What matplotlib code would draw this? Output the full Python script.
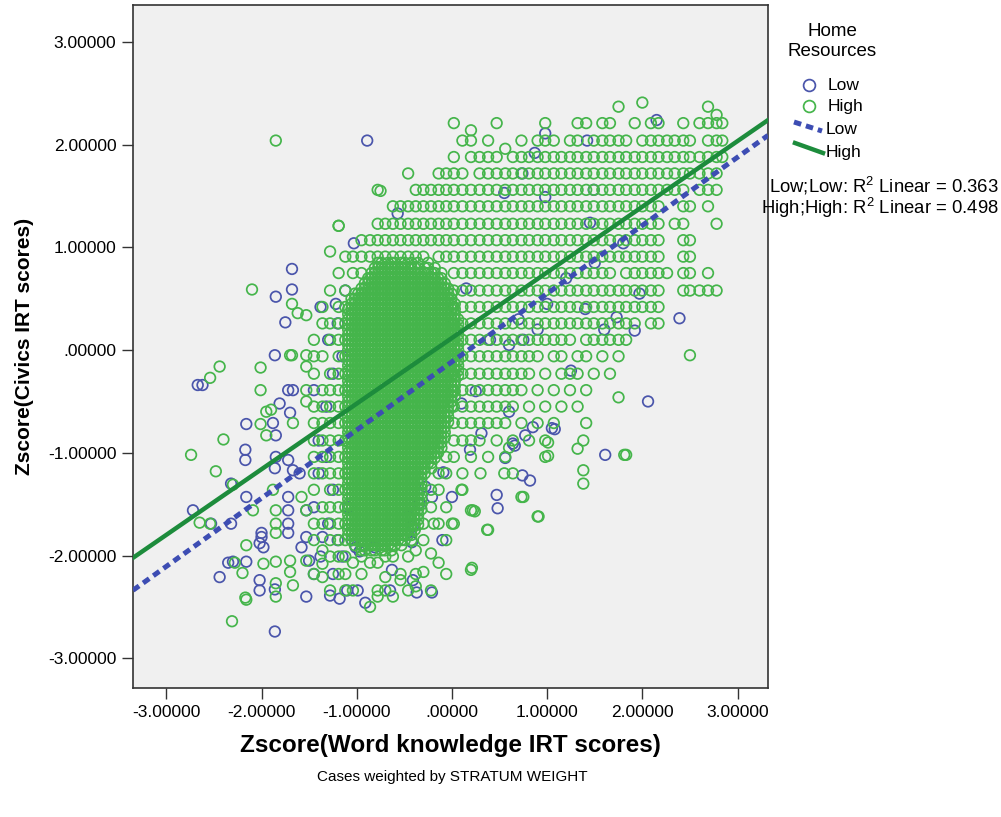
import matplotlib.pyplot as plt
from matplotlib.lines import Line2D
from matplotlib.ticker import FuncFormatter
import numpy as np

plt.rcParams['font.family'] = ['Liberation Sans', 'DejaVu Sans']
plt.rcParams['mathtext.fontset'] = 'custom'
plt.rcParams['mathtext.rm'] = 'Liberation Sans'

# fit lines: (intercept, slope)
fit_low = (-0.114, 0.664)
fit_high = (0.118, 0.639)
r2_low = 0.363
r2_high = 0.498

ticks = [-3, -2, -1, 0, 1, 2, 3]

# the solid middle of the High cloud: ring positions that overlap so closely
# that the area reads as a filled blob. Each column keeps the rows between its
# (bottom, top).
core_rows = [-1.95, -1.90, -1.85, -1.80, -1.75, -1.70, -1.65, -1.60, -1.55, -1.50,
             -1.45, -1.40, -1.35, -1.30, -1.25, -1.20, -1.15, -1.10, -1.05, -1.00,
             -0.95, -0.90, -0.85, -0.80, -0.75, -0.70, -0.65, -0.60, -0.55, -0.50,
             -0.45, -0.40, -0.35, -0.30, -0.25, -0.20, -0.15, -0.10, -0.05, 0.00,
             0.05, 0.10, 0.15, 0.20, 0.25, 0.30, 0.35, 0.40, 0.45, 0.50,
             0.55, 0.60, 0.65, 0.70, 0.75, 0.80, 0.85]
core_cols = {
    -1.09: (-1.80, 0.40), -1.055: (-1.88, 0.50), -1.02: (-1.90, 0.55), -0.985: (-1.88, 0.55),
    -0.95: (-1.95, 0.60), -0.915: (-1.95, 0.65), -0.88: (-1.90, 0.70), -0.845: (-1.95, 0.75),
    -0.81: (-1.95, 0.80), -0.775: (-1.90, 0.85), -0.74: (-1.95, 0.85), -0.705: (-1.95, 0.80),
    -0.67: (-1.90, 0.85), -0.635: (-1.95, 0.85), -0.60: (-1.90, 0.85), -0.565: (-1.85, 0.80),
    -0.53: (-1.90, 0.85), -0.495: (-1.85, 0.85), -0.46: (-1.80, 0.80), -0.425: (-1.85, 0.85),
    -0.39: (-1.75, 0.80), -0.355: (-1.70, 0.85), -0.32: (-1.55, 0.75), -0.285: (-1.20, 0.80),
    -0.25: (-1.10, 0.85), -0.215: (-1.15, 0.75), -0.18: (-1.05, 0.80), -0.145: (-1.00, 0.70),
    -0.11: (-0.95, 0.75), -0.075: (-0.85, 0.65), -0.04: (-0.70, 0.60), -0.005: (-0.55, 0.55),
    0.03: (-0.45, 0.45), 0.065: (-0.25, 0.30),
}

# High group, column by column (x : civics rows)
green_cols = {
    -1.45: [0.10, -0.06, -0.23, -0.55, -0.71, -0.88, -1.04, -1.20, -1.36, -1.69, -1.85, -2.18],
    -1.36: [0.42, 0.26, -0.06, -0.39, -0.55, -0.71, -0.88, -1.04, -1.20, -1.53, -1.69, -1.95, -2.08, -2.21],
    -1.28: [0.96, 0.58, 0.26, 0.10, -0.23, -0.39, -0.55, -0.71, -0.88, -1.04, -1.20, -1.36, -1.53, -1.69, -1.85, -2.01, -2.34],
    -1.19: [1.21, 0.75, 0.42, 0.26, 0.10, -0.06, -0.23, -0.39, -0.55, -0.71, -0.88, -1.04, -1.20, -1.36, -1.53, -1.69, -1.85, -2.01, -2.18],
    -1.12: [0.91, 0.58, 0.42, 0.26, 0.10, -0.06, -0.23, -0.39, -0.55, -0.71, -0.88, -1.04, -1.20, -1.36, -1.53, -1.69, -1.85, -2.01, -2.18, -2.34],
    -1.04: [0.91, 0.75, -2.07, -2.34],
    -0.95: [0.91, 1.07, 0.75, -2.01, -2.18],
    -0.86: [0.91, 1.07, -2.07, -2.50],
    -0.78: [0.91, 1.07, 1.23, 1.56, -2.07, -2.34, -2.40],
    -0.70: [0.91, 1.07, 1.23, -2.01, -2.21, -2.34],
    -0.62: [0.91, 1.07, 1.23, 1.40, -2.01, -2.40],
    -0.54: [0.91, 1.07, 1.23, 1.40, -2.18, -2.24],
    -0.46: [0.91, 1.07, 1.23, 1.40, 1.72, -2.01, -2.34],
    -0.38: [0.91, 1.07, 1.23, 1.40, 1.56, -1.95, -2.18, -2.30],
    -0.30: [0.91, 1.07, 1.23, 1.40, 1.56, -1.69, -1.85, -2.16],
    -0.22: [1.07, 1.23, 1.40, 1.56, -1.36, -1.53, -1.98, -2.34],
    -0.14: [0.91, 1.07, 1.23, 1.40, 1.56, 1.72, -1.20, -1.36, -1.69, -2.07],
    -0.06: [0.91, 1.07, 1.23, 1.40, 1.56, 1.72, -1.04, -1.20, -1.53, -1.85, -2.18],
    0.02: [2.21, 1.88, 1.72, 1.56, 1.40, 1.23, 1.07, 0.91, 0.75, 0.58, 0.42, 0.26, 0.10, -0.06, -0.23, -0.39, -0.55, -0.71, -0.88, -1.04, -1.69],
    0.11: [2.04, 1.72, 1.56, 1.40, 1.23, 1.07, 0.91, 0.75, 0.58, 0.42, 0.26, 0.10, -0.06, -0.23, -0.39, -0.55, -0.71, -0.88, -1.20, -1.36],
    0.20: [2.14, 2.04, 1.88, 1.56, 1.40, 1.23, 1.07, 0.91, 0.75, 0.58, 0.42, 0.26, 0.10, -0.06, -0.23, -0.39, -0.55, -0.71, -0.88, -1.04, -1.56, -2.14],
    0.29: [1.88, 1.72, 1.56, 1.40, 1.23, 1.07, 0.91, 0.75, 0.58, 0.42, 0.26, 0.10, -0.06, -0.23, -0.39, -0.55, -0.71, -0.88],
    0.38: [2.04, 1.88, 1.72, 1.56, 1.40, 1.23, 1.07, 0.91, 0.75, 0.58, 0.42, 0.26, 0.10, -0.06, -0.23, -0.39, -0.55, -0.71, -1.04, -1.75],
    0.47: [2.21, 1.88, 1.72, 1.56, 1.40, 1.23, 1.07, 0.91, 0.75, 0.58, 0.42, 0.26, 0.10, -0.06, -0.23, -0.39, -0.55, -0.71, -0.88],
    0.56: [1.96, 1.72, 1.56, 1.40, 1.23, 1.07, 0.91, 0.75, 0.58, 0.42, 0.26, 0.10, -0.06, -0.23, -0.39, -0.55, -0.71, -1.04],
    0.64: [1.88, 1.72, 1.56, 1.40, 1.23, 1.07, 0.91, 0.75, 0.58, 0.42, 0.26, 0.10, -0.06, -0.23, -0.39, -0.55, -0.88, -1.20],
    0.73: [2.04, 1.88, 1.72, 1.56, 1.40, 1.23, 1.07, 0.91, 0.75, 0.58, 0.42, 0.26, 0.10, -0.06, -0.23, -0.39, -0.71, -1.43],
    0.81: [1.88, 1.72, 1.56, 1.40, 1.23, 1.07, 0.91, 0.75, 0.58, 0.42, 0.26, 0.10, -0.06, -0.23, -0.55, -0.88],
    0.90: [2.04, 1.88, 1.72, 1.56, 1.40, 1.23, 1.07, 0.91, 0.75, 0.58, 0.42, 0.26, 0.10, -0.06, -0.39, -0.71, -1.62],
    0.98: [2.21, 2.04, 1.88, 1.72, 1.56, 1.40, 1.23, 1.07, 0.91, 0.75, 0.58, 0.42, 0.26, 0.10, -0.23, -0.55, -0.88, -1.04],
    1.07: [2.04, 1.88, 1.72, 1.56, 1.40, 1.23, 1.07, 0.91, 0.75, 0.58, 0.42, 0.26, 0.10, -0.06, -0.39, -0.71],
    1.15: [1.88, 1.72, 1.56, 1.40, 1.23, 1.07, 0.91, 0.75, 0.58, 0.42, 0.26, 0.10, -0.06, -0.23, -0.55],
    1.24: [2.04, 1.88, 1.72, 1.56, 1.40, 1.23, 1.07, 0.91, 0.75, 0.58, 0.42, 0.26, 0.10, -0.23, -0.39],
    1.32: [2.21, 2.04, 1.88, 1.72, 1.56, 1.40, 1.23, 1.07, 0.91, 0.75, 0.58, 0.42, 0.26, -0.06, -0.23, -0.55, -0.96],
    1.38: [-0.88, -1.17, -1.30],
    1.41: [2.21, 1.88, 1.72, 1.56, 1.40, 1.23, 1.07, 0.91, 0.75, 0.58, 0.42, 0.26, 0.10, -0.06, -0.39, -0.71],
    1.49: [2.04, 1.88, 1.72, 1.56, 1.40, 1.23, 1.07, 0.91, 0.75, 0.58, 0.42, 0.26, 0.10, -0.23],
    1.58: [2.21, 2.04, 1.88, 1.72, 1.56, 1.40, 1.23, 1.07, 0.91, 0.75, 0.58, 0.42, 0.26, 0.10, -0.06],
    1.66: [2.21, 2.04, 1.88, 1.72, 1.56, 1.40, 1.23, 1.07, 0.91, 0.75, 0.58, 0.42, 0.26, 0.10, -0.23],
    1.75: [2.37, 2.04, 1.88, 1.72, 1.56, 1.40, 1.23, 1.07, 0.91, 0.58, 0.42, 0.26, 0.10, -0.06, -0.46],
    1.83: [2.04, 1.88, 1.72, 1.56, 1.40, 1.23, 1.07, 0.91, 0.75, 0.58, 0.42, 0.26, 0.10, -1.02],
    1.92: [2.21, 1.88, 1.72, 1.56, 1.40, 1.23, 1.07, 0.91, 0.75, 0.58, 0.42, 0.26],
    2.00: [2.41, 2.04, 1.88, 1.72, 1.56, 1.40, 1.23, 1.07, 0.91, 0.75, 0.58, 0.42],
    2.09: [2.21, 2.04, 1.88, 1.72, 1.56, 1.40, 1.23, 1.07, 0.91, 0.75, 0.58, 0.42, 0.26],
    2.17: [2.21, 2.04, 1.88, 1.72, 1.56, 1.40, 1.23, 1.07, 0.91, 0.75, 0.58, 0.42, 0.26],
    2.26: [2.04, 1.88, 1.72, 1.56, 0.75],
    2.34: [2.04, 1.88, 1.72, 1.56, 1.23],
    2.43: [2.21, 2.04, 1.88, 1.72, 1.56, 1.40, 1.23, 1.07, 0.91, 0.75, 0.58],
    2.50: [2.04, 1.88, 1.72, 1.40, 1.07, 0.91, 0.75, 0.58, -0.05],
    2.60: [2.21, 1.88, 1.72, 1.56, 0.58],
    2.69: [2.37, 2.21, 2.04, 1.88, 1.72, 1.56, 1.40, 0.75, 0.58],
    2.78: [2.29, 2.21, 2.04, 1.88, 1.72, 1.56, 1.23, 0.58],
    2.84: [2.21, 2.04, 1.88],
}

# scattered High cases outside the main cloud
green_sparse_x = [-2.74, -2.65, -2.54, -2.54, -2.48, -2.44, -2.40, -2.31, -2.30, -2.28,
                  -2.16, -2.16, -2.10, -2.09, -2.01, -2.01, -2.01, -1.85, -1.95, -1.90,
                  -1.95, -1.98, -2.20, -2.17, -1.88, -1.85, -1.85, -1.85, -1.85, -1.85,
                  -1.85, -1.70, -1.70, -1.67, -1.70, -1.68, -1.62, -1.53, -1.67, -1.58,
                  -1.53, -1.53, -1.53, -1.53, -1.53, -1.53, -1.68, -0.75, -1.19,
                  0.21, 0.37, 0.22, 0.10, 0.00, -0.19, 0.91, 0.24, 0.75, 1.01, 1.01,
                  1.81, 0.55, 0.30, 0.60]
green_sparse_y = [-1.02, -1.68, -0.27, -1.69, -1.18, -0.16, -0.87, -2.64, -1.31, -2.07,
                  -1.90, -2.43, 0.59, -1.56, -0.17, -0.39, -0.72, 2.04, -0.60, -0.58,
                  -0.83, -2.08, -2.17, -2.41, -1.36, -1.56, -1.69, -1.78, -2.06, -2.27,
                  -2.40, -2.05, -2.16, -2.29, -0.05, 0.45, 0.36, 0.34, -0.71, -1.43,
                  -1.56, -2.05, -0.05, -0.16, -0.39, -0.50, -0.05, 1.55, 1.21,
                  -2.12, -1.75, -1.56, -1.36, -1.69, -1.69, -1.62, -1.57, -1.43, -0.90, -1.03,
                  -1.02, -1.20, -1.20, -0.95]

# Low group cases
blue_x = [-2.67, -2.62, -2.72, -2.53, -2.32, -2.44, -2.35, -2.30, -2.16, -2.17,
          -2.17, -2.32, -2.16, -2.02, -2.00, -2.16, -2.02, -2.02, -1.86, -1.86,
          -1.53, -1.28, -1.18, -1.86, -1.67, -1.72, -1.45, -1.81, -1.70, -1.88,
          -1.85, -1.85, -1.86, -1.72, -1.67, -1.60, -1.72, -1.72, -1.53, -1.72,
          -1.72, -2.00, -1.98, -1.53, -1.58, -1.50, -1.36, -1.68, -1.68, -1.85,
          -1.75, -0.89, -1.03,
          -1.40, -1.32, -1.40, -1.25, -1.45, -1.30, -1.20, -1.15, -1.25, -1.10,
          -1.38, -1.45, -1.32, -1.25, -1.15, -1.30, -1.20, -1.12, -1.38, -1.22,
          -1.09, -1.05, -1.01, -0.97, -0.81, -0.46, -0.34, -0.28, -0.09, -0.21,
          -0.10, -0.42, -0.41, -0.63, -0.99, -0.91, -0.65, -0.41, -0.37, -0.21,
          0.00, 0.19, 0.10, 0.31, 0.47, 0.48, 0.56, 0.64, 0.74, 0.82,
          0.77, 0.85, 1.05, 1.08, 0.66,
          1.42, 2.15, 1.49, 2.39, 1.92, 1.97, 1.73, 1.80, 1.45, 0.98,
          0.87, 0.74, 0.98, 0.55, -0.57, 2.06, 1.61, 1.20, 1.40, 1.60,
          0.40, 0.70, 0.25, 0.60, 0.15, 1.00, 1.25, 1.50, 0.75, 0.90, 0.60]
blue_y = [-0.34, -0.34, -1.56, -1.69, -1.69, -2.21, -2.07, -2.06, -0.72, -0.97,
          -1.07, -1.30, -1.43, -1.88, -1.82, -2.06, -2.24, -2.34, -2.74, -2.33,
          -2.40, -2.39, -2.42, -0.05, -0.39, -0.39, -0.39, -0.52, -0.61, -0.71,
          -0.83, -1.04, -1.15, -1.07, -1.17, -1.20, -1.43, -1.56, -1.56, -1.69,
          -1.78, -1.78, -1.92, -1.82, -1.92, -2.05, -1.82, 0.79, 0.59, 0.52,
          0.27, 2.04, 1.04,
          -0.88, -1.04, -1.20, -1.36, -1.53, -1.69, -1.85, -2.01, -2.18, -2.34,
          -2.01, -2.18, -0.55, -0.23, -0.06, 0.10, 0.26, 0.58, 0.42, 0.45,
          -1.53, -1.85, -1.92, -1.96, -1.92, -1.62, -1.49, -1.33, -1.19, -1.43,
          -1.85, -1.87, -1.72, -2.14, -2.34, -2.46, -2.34, -2.24, -2.36, -2.36,
          -1.43, -0.97, -0.52, -0.81, -1.41, -1.54, -1.05, -0.91, -1.22, -1.27,
          -0.83, -0.75, -0.76, -0.77, -0.93,
          2.04, 2.24, 1.56, 0.31, 0.19, 0.55, 0.32, 1.04, 1.24, 2.11,
          1.92, 1.72, 1.49, 1.53, 1.33, -0.50, -1.02, 0.70, 0.40, 0.20,
          0.10, 0.30, -0.40, -0.60, 0.60, 0.45, -0.20, 0.85, 0.10, 0.20, 0.05]

# flatten the High group
gx, gy = [], []
for x, (lo, hi) in core_cols.items():
    ys = [r for r in core_rows if lo <= r <= hi]
    gx += [x] * len(ys)
    gy += ys
for x, ys in green_cols.items():
    gx += [x] * len(ys)
    gy += ys
gx += green_sparse_x
gy += green_sparse_y

green_ring = '#45b54b'
blue_ring = '#4a55ab'
green_line = '#1d8c3c'
blue_line = '#3d4db3'

fig = plt.figure(figsize=(10.01, 8.17), dpi=100)
ax = fig.add_axes([133/1001, 1 - 688/817, (768-133)/1001, (688-5)/817])
ax.set_facecolor('#f0f0f0')

ax.scatter(blue_x, blue_y, s=58, facecolors='none', edgecolors=blue_ring, linewidths=1.25, zorder=2)
ax.scatter(gx, gy, s=58, facecolors='none', edgecolors=green_ring, linewidths=1.25, zorder=3)

xl = np.array([-3.35, 3.32])
ax.plot(xl, fit_low[0] + fit_low[1]*xl, color=blue_line, lw=3.6, dashes=(1.5, 1.0), zorder=4)
ax.plot(xl, fit_high[0] + fit_high[1]*xl, color=green_line, lw=3.2, zorder=5)

ax.set_xlim(-3.35, 3.32)
ax.set_ylim(-3.29, 3.36)
ax.set_xticks(ticks)
ax.set_yticks(ticks)
fmt = FuncFormatter(lambda v, p: '.00000' if v == 0 else '%.5f' % v)
ax.xaxis.set_major_formatter(fmt)
ax.yaxis.set_major_formatter(fmt)
ax.tick_params(direction='out', length=8, width=1, labelsize=12.5, color='#333333', pad=4)
for s in ax.spines.values():
    s.set_color('#333333')
    s.set_linewidth(1.2)

ax.set_xlabel('Zscore(Word knowledge IRT scores)', fontsize=17.5, fontweight='bold', labelpad=10)
ax.set_ylabel('Zscore(Civics IRT scores)', fontsize=15, fontweight='bold', labelpad=10)

fig.text(452/1001, 1 - 777/817, 'Cases weighted by STRATUM WEIGHT', ha='center', va='center', fontsize=11)

# legend, drawn by hand like the SPSS one
def fx(px):
    return px / 1001

def fy(py):
    return 1 - py / 817

fig.text(fx(832), fy(32), 'Home', ha='center', va='center', fontsize=13.5)
fig.text(fx(832), fy(52), 'Resources', ha='center', va='center', fontsize=13.5)
fig.add_artist(Line2D([fx(809)], [fy(85)], marker='o', ms=8.5, mfc='none', mec=blue_ring, mew=1.25, transform=fig.transFigure))
fig.add_artist(Line2D([fx(809)], [fy(106)], marker='o', ms=8.5, mfc='none', mec=green_ring, mew=1.25, transform=fig.transFigure))
fig.text(fx(828), fy(85), 'Low', ha='left', va='center', fontsize=12.5)
fig.text(fx(828), fy(106), 'High', ha='left', va='center', fontsize=12.5)
fig.add_artist(Line2D([fx(794), fx(822)], [fy(122), fy(131)], color=blue_line, lw=3.6, dashes=(1.5, 1.0), transform=fig.transFigure))
fig.add_artist(Line2D([fx(795), fx(823)], [fy(143), fy(153)], color=green_line, lw=3.2, transform=fig.transFigure))
fig.text(fx(826), fy(130), 'Low', ha='left', va='center', fontsize=12.5)
fig.text(fx(826), fy(152), 'High', ha='left', va='center', fontsize=12.5)
fig.text(fx(999), fy(186), 'Low;Low: R$^2$ Linear = %.3f' % r2_low, ha='right', va='center', fontsize=13.3)
fig.text(fx(999), fy(208), 'High;High: R$^2$ Linear = %.3f' % r2_high, ha='right', va='center', fontsize=13.3)

fig.savefig('out.png', dpi=100)
